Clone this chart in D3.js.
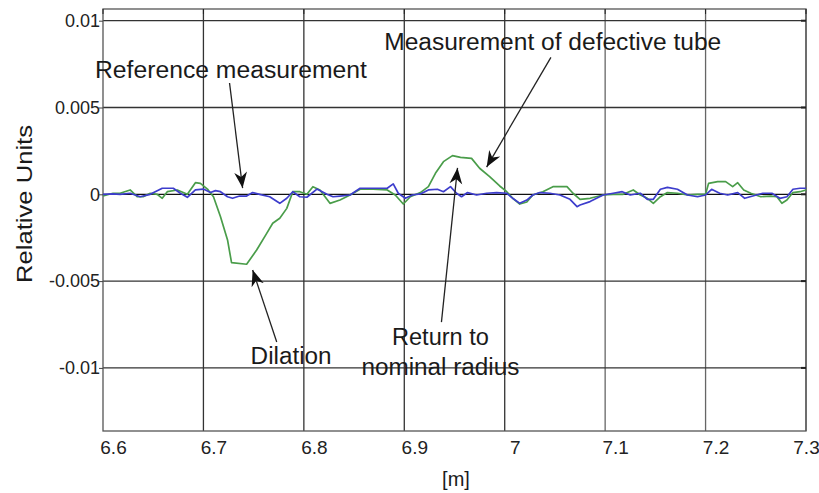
<!DOCTYPE html>
<html>
<head>
<meta charset="utf-8">
<script src="https://cdn.jsdelivr.net/npm/d3@7"></script>
<style>
  body { margin: 0; background: #fff; }
  svg { font-family: "Liberation Sans", Arial, sans-serif; }
</style>
</head>
<body>
<svg id="graph" width="819" height="493"></svg>
<script>
// ticks
const xTicks = [6.6, 6.7, 6.8, 6.9, 7.0, 7.1, 7.2, 7.3];
const yTicks = [0.01, 0.005, 0, -0.005, -0.01];
const xTickLabels = ["6.6", "6.7", "6.8", "6.9", "7", "7.1", "7.2", "7.3"];
const yTickLabels = ["0.01", "0.005", "0", "-0.005", "-0.01"];

// measurement of defective tube (green), values in 1e-3
const defectX = [6.600, 6.610, 6.617, 6.627, 6.634, 6.640, 6.647, 6.654, 6.659, 6.664, 6.674, 6.684, 6.692, 6.697,
  6.704, 6.710, 6.717, 6.724, 6.728, 6.743, 6.753, 6.763, 6.769, 6.776, 6.783, 6.789, 6.796, 6.803, 6.809, 6.816,
  6.826, 6.836, 6.846, 6.856, 6.869, 6.883, 6.891, 6.899, 6.906, 6.916, 6.924, 6.931, 6.939, 6.948, 6.956, 6.967,
  6.975, 6.985, 6.995, 7.002, 7.008, 7.015, 7.022, 7.028, 7.038, 7.048, 7.062, 7.068, 7.075, 7.085, 7.098, 7.108,
  7.118, 7.128, 7.135, 7.142, 7.148, 7.155, 7.162, 7.172, 7.182, 7.192, 7.200, 7.203, 7.212, 7.220, 7.227, 7.232,
  7.238, 7.245, 7.255, 7.265, 7.271, 7.276, 7.281, 7.287, 7.294, 7.300];
const defectY = [-0.10, 0.06, 0.06, 0.25, -0.14, -0.14, 0.06, 0.00, -0.23, 0.15, 0.25, 0.00, 0.67, 0.63,
  0.30, -0.14, -1.29, -2.63, -3.94, -4.03, -3.21, -2.25, -1.67, -1.38, -0.81, 0.15, 0.15, 0.00, 0.44, 0.25,
  -0.52, -0.33, -0.04, 0.29, 0.29, 0.25, -0.04, -0.56, -0.14, 0.10, 0.44, 1.21, 1.88, 2.23, 2.13, 2.07,
  1.50, 1.02, 0.48, 0.15, -0.23, -0.56, -0.44, -0.04, 0.15, 0.44, 0.44, 0.06, -0.29, -0.23, -0.04, 0.00,
  0.00, 0.25, -0.04, -0.23, -0.52, -0.14, 0.10, 0.06, -0.04, 0.00, 0.00, 0.63, 0.73, 0.73, 0.44, 0.67,
  0.25, 0.06, -0.14, -0.10, -0.14, -0.52, -0.33, 0.10, 0.15, 0.25];

// reference measurement (blue), values in 1e-3
const refX = [6.600, 6.610, 6.617, 6.627, 6.637, 6.647, 6.659, 6.670, 6.677, 6.684, 6.692, 6.700, 6.707, 6.712,
  6.717, 6.724, 6.729, 6.736, 6.743, 6.749, 6.756, 6.766, 6.776, 6.783, 6.789, 6.796, 6.803, 6.813, 6.823, 6.829,
  6.836, 6.846, 6.856, 6.869, 6.883, 6.889, 6.894, 6.901, 6.908, 6.916, 6.924, 6.933, 6.939, 6.946, 6.952, 6.957,
  6.963, 6.972, 6.982, 6.992, 7.002, 7.008, 7.015, 7.022, 7.028, 7.035, 7.045, 7.055, 7.065, 7.072, 7.075, 7.085,
  7.098, 7.108, 7.117, 7.125, 7.135, 7.142, 7.148, 7.155, 7.162, 7.172, 7.182, 7.192, 7.200, 7.206, 7.214, 7.222,
  7.232, 7.239, 7.247, 7.257, 7.266, 7.274, 7.281, 7.287, 7.294, 7.300];
const refY = [0.00, 0.02, 0.00, 0.06, -0.14, 0.00, 0.35, 0.35, 0.06, -0.17, 0.25, 0.30, 0.10, 0.21,
  0.15, -0.14, -0.23, -0.10, -0.10, 0.10, 0.00, -0.14, -0.52, -0.23, 0.15, -0.14, -0.17, 0.30, 0.00, -0.14,
  -0.10, -0.04, 0.35, 0.35, 0.35, 0.60, 0.06, -0.23, -0.04, 0.02, 0.25, 0.29, 0.15, 0.44, 0.06, -0.14,
  0.10, -0.04, 0.06, 0.10, 0.06, -0.23, -0.52, -0.33, -0.04, 0.10, 0.06, -0.04, -0.29, -0.71, -0.62, -0.42,
  -0.04, 0.06, 0.15, -0.04, 0.06, -0.29, -0.29, 0.29, 0.40, 0.29, -0.04, -0.14, -0.04, 0.29, 0.06, -0.04,
  0.10, -0.23, -0.10, 0.06, 0.06, -0.23, -0.14, 0.29, 0.35, 0.35];

// annotations: text, then arrow from [x, y] to [x, y] in data units
const notes = [
  { lines: ["Reference measurement"], x: 6.592, y: 0.0067, len: [272], from: [6.726, 0.00641], to: [6.739, 0.00036] },
  { lines: ["Measurement of defective tube"], x: 6.880, y: 0.0083, len: [337], from: [7.046, 0.00789], to: [6.982, 0.00157] },
  { lines: ["Dilation"], x: 6.747, y: -0.0098, len: [81], from: [6.773, -0.00851], to: [6.749, -0.00436] },
  { lines: ["Return to", "nominal radius"], x: 6.936, y: -0.0087, len: [97, 158], from: [6.937, -0.00736], to: [6.953, 0.00152], middle: true }
];

const svg = d3.select("#graph");
const margin = { top: 9, right: 13, bottom: 62, left: 103 };
const width = svg.attr("width") - margin.left - margin.right;
const height = svg.attr("height") - margin.top - margin.bottom;

const x = d3.scaleLinear().domain([6.6, 7.3]).range([0, width]);
const y = d3.scaleLinear().domain([-0.013634, 0.010674]).range([height, 0]);

const g = svg.append("g").attr("transform", `translate(${margin.left},${margin.top})`);

svg.append("defs").append("marker")
  .attr("id", "head")
  .attr("viewBox", "0 0 10 10")
  .attr("refX", 10).attr("refY", 5)
  .attr("markerWidth", 16).attr("markerHeight", 16)
  .attr("markerUnits", "userSpaceOnUse")
  .attr("orient", "auto")
  .append("path")
  .attr("d", "M0,1 L10,5 L0,9 L3,5 Z")
  .attr("fill", "#111");

// grid
g.append("g").selectAll("line").data(xTicks.slice(1)).enter().append("line")
  .attr("x1", d => x(d)).attr("x2", d => x(d))
  .attr("y1", 0).attr("y2", height)
  .attr("stroke", (d, i) => i >= 4 ? "#666" : "#333")
  .attr("stroke-width", 1.3);

g.append("g").selectAll("line").data(yTicks).enter().append("line")
  .attr("x1", 0).attr("x2", width)
  .attr("y1", d => y(d)).attr("y2", d => y(d))
  .attr("stroke", d => d === 0 ? "#111" : "#333")
  .attr("stroke-width", 1.3);

// frame
g.append("rect")
  .attr("width", width).attr("height", height)
  .attr("fill", "none").attr("stroke", "#555").attr("stroke-width", 1.3);

// little inward ticks on top and right
g.append("g").selectAll("line").data(xTicks).enter().append("line")
  .attr("x1", d => x(d)).attr("x2", d => x(d))
  .attr("y1", 0).attr("y2", 5)
  .attr("stroke", "#222");
g.append("g").selectAll("line").data(yTicks).enter().append("line")
  .attr("x1", width - 5).attr("x2", width)
  .attr("y1", d => y(d)).attr("y2", d => y(d))
  .attr("stroke", "#222").attr("stroke-width", 2);

// axes labels
const xAxis = d3.axisBottom(x).tickValues(xTicks).tickSize(0)
  .tickFormat((d, i) => xTickLabels[i]);
const xg = g.append("g").attr("transform", `translate(0,${height})`).call(xAxis);
xg.select(".domain").remove();
xg.selectAll("text")
  .attr("y", 10).attr("dy", "0.71em")
  .attr("dx", (d, i) => i === xTicks.length - 1 ? 0 : 10)
  .attr("font-size", 19).attr("fill", "#222")
  .attr("font-family", "Liberation Sans, Arial, sans-serif");

const yAxis = d3.axisLeft(y).tickValues(yTicks).tickSize(0)
  .tickFormat((d, i) => yTickLabels[i]);
const yg = g.append("g").call(yAxis);
yg.select(".domain").remove();
yg.selectAll("text")
  .attr("x", -3)
  .attr("font-size", 18).attr("fill", "#222")
  .attr("font-family", "Liberation Sans, Arial, sans-serif");
yg.selectAll(".tick").append("line")
  .attr("x1", -4).attr("x2", 0).attr("stroke", "#444");

svg.append("text")
  .attr("transform", "translate(32,204) rotate(-90)")
  .attr("text-anchor", "middle")
  .attr("font-size", 22)
  .attr("textLength", 158).attr("lengthAdjust", "spacingAndGlyphs")
  .attr("fill", "#1a1a1a")
  .text("Relative Units");

svg.append("text")
  .attr("x", 456).attr("y", 486)
  .attr("text-anchor", "middle")
  .attr("font-size", 20).attr("fill", "#1a1a1a")
  .text("[m]");

// series
const line = d3.line().x(d => x(d[0])).y(d => y(d[1] / 1000));
const defect = defectX.map((v, i) => [v, defectY[i]]);
const ref = refX.map((v, i) => [v, refY[i]]);

g.append("path").datum(defect)
  .attr("d", line).attr("fill", "none")
  .attr("stroke", "#4a9d4a").attr("stroke-width", 1.7).attr("stroke-linejoin", "round");
g.append("path").datum(ref)
  .attr("d", line).attr("fill", "none")
  .attr("stroke", "#3d3dcc").attr("stroke-width", 1.7).attr("stroke-linejoin", "round");

// annotations
notes.forEach(n => {
  g.append("line")
    .attr("x1", x(n.from[0])).attr("y1", y(n.from[1]))
    .attr("x2", x(n.to[0])).attr("y2", y(n.to[1]))
    .attr("stroke", "#222").attr("stroke-width", 1.3)
    .attr("marker-end", "url(#head)");
  n.lines.forEach((t, i) => {
    g.append("text")
      .attr("x", x(n.x)).attr("y", y(n.y) + i * 30)
      .attr("text-anchor", n.middle ? "middle" : "start")
      .attr("font-size", 23)
      .attr("textLength", n.len[i]).attr("lengthAdjust", "spacingAndGlyphs")
      .attr("fill", "#1a1a1a")
      .text(t);
  });
});
</script>
</body>
</html>
